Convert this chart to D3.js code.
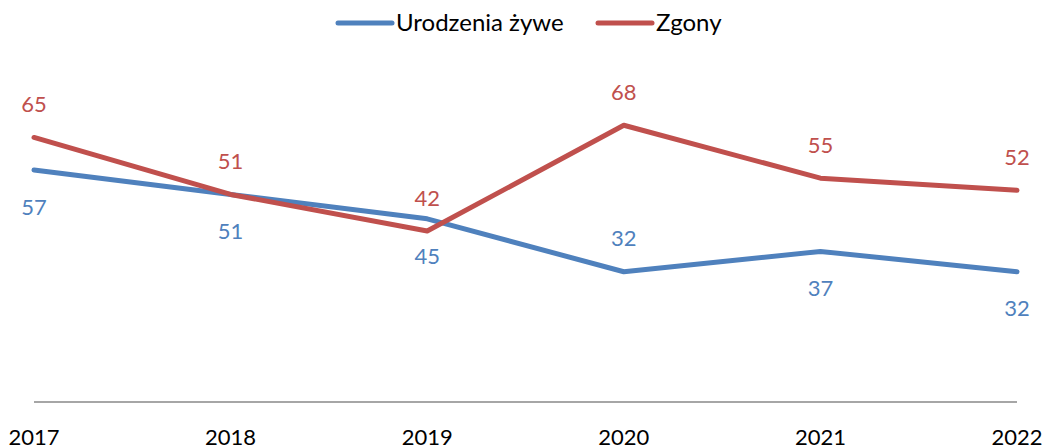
<!DOCTYPE html>
<html>
<head>
  <meta charset="utf-8">
  <script src="https://d3js.org/d3.v7.min.js"></script>
  <style>
    body { margin: 0; background: #fff; }
    svg text { font-family: Lato, "Open Sans", sans-serif; font-size: 22px; }
    svg text.legend { font-size: 24px; }
  </style>
</head>
<body>
  <script>
    var years = ["2017", "2018", "2019", "2020", "2021", "2022"];
    var births = [57, 51, 45, 32, 37, 32];
    var deaths = [65, 51, 42, 68, 55, 52];
    // label above (-1) or below (+1) the point
    var birthsPos = [1, 1, 1, -1, 1, 1];
    var deathsPos = [-1, -1, -1, -1, -1, -1];

    var width = 1048, height = 448;
    var blue = "#4F81BD", red = "#C0504D";

    var svg = d3.select("body").append("svg")
      .attr("width", width)
      .attr("height", height);

    var x = d3.scalePoint().domain(years).range([34, 1017]);
    var y = d3.scaleLinear().domain([0, 80]).range([402, 76.4]);

    // axis baseline
    svg.append("line")
      .attr("x1", 34).attr("x2", 1017)
      .attr("y1", y(0)).attr("y2", y(0))
      .attr("stroke", "#898989").attr("stroke-width", 1.5);

    svg.selectAll("text.year")
      .data(years)
      .enter().append("text")
      .attr("class", "year")
      .attr("x", function(d) { return x(d); })
      .attr("y", 445)
      .attr("text-anchor", "middle")
      .attr("fill", "#000")
      .text(function(d) { return d; });

    var line = d3.line()
      .x(function(d, i) { return x(years[i]); })
      .y(function(d) { return y(d); });

    var series = [
      { name: "Urodzenia żywe", values: births, pos: birthsPos, color: blue },
      { name: "Zgony", values: deaths, pos: deathsPos, color: red }
    ];

    series.forEach(function(s) {
      svg.append("path")
        .datum(s.values)
        .attr("d", line)
        .attr("fill", "none")
        .attr("stroke", s.color)
        .attr("stroke-width", 5)
        .attr("stroke-linejoin", "round")
        .attr("stroke-linecap", "round");

      svg.selectAll(null)
        .data(s.values)
        .enter().append("text")
        .attr("x", function(d, i) { return x(years[i]); })
        .attr("y", function(d, i) { return y(d) + (s.pos[i] > 0 ? 37 : -33); })
        .attr("dy", "0.35em")
        .attr("text-anchor", "middle")
        .attr("fill", s.color)
        .text(function(d) { return d; });
    });

    // legend
    var legendX = [338, 598];
    series.forEach(function(s, i) {
      var g = svg.append("g").attr("transform", "translate(" + legendX[i] + ",23)");
      g.append("line")
        .attr("x1", 0).attr("x2", 54)
        .attr("stroke", s.color).attr("stroke-width", 5)
        .attr("stroke-linecap", "round");
      g.append("text")
        .attr("class", "legend")
        .attr("x", 58)
        .attr("dy", "0.35em")
        .attr("fill", "#000")
        .text(s.name);
    });
  </script>
</body>
</html>
